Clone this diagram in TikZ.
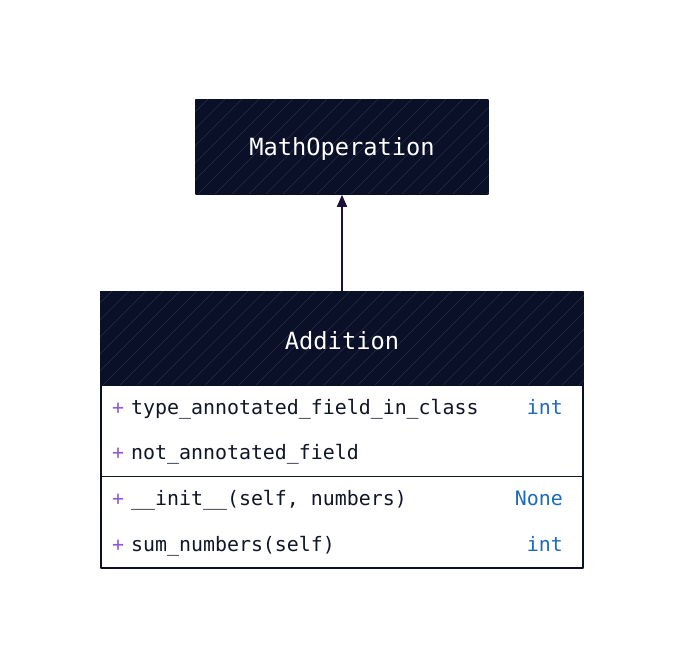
\documentclass[tikz,border=0pt]{standalone}
\usepackage{fontspec}
\setmonofont{DejaVu Sans Mono}
\usetikzlibrary{arrows.meta}
\definecolor{headfill}{HTML}{0B1029}
\definecolor{edgeline}{HTML}{1E0F3C}
\definecolor{visib}{HTML}{8C5BD6}
\definecolor{typeblue}{HTML}{1E6BBE}
\definecolor{membtext}{HTML}{111528}
\tikzset{
  classhead/.style={draw=headfill,fill=headfill,line width=1.6pt,text=white,inner sep=0pt,
    font=\ttfamily\fontsize{23.7}{28}\selectfont},
  hatchline/.style={line width=0.35pt,draw=white,opacity=0.16},
  member/.style={anchor=west,inner sep=0pt,text height=15pt,text depth=5pt,text=membtext,
    font=\ttfamily\fontsize{19.9}{24}\selectfont},
  plussign/.style={member,text=visib},
  membtype/.style={member,anchor=east,text=typeblue},
  inherit/.style={draw=edgeline,line width=1.5pt,-{Triangle[length=12pt,width=10pt]}}
}
\begin{document}
\begin{tikzpicture}[x=1pt,y=-1pt,line cap=round,line join=round]
  \useasboundingbox[fill=white] (0,0) rectangle (684,670);
  % super class
  \node[classhead,minimum width=292pt,minimum height=94pt] (mathop) at (342,147) {};
  \begin{scope}
    \clip (mathop.south west) rectangle (mathop.north east);
    \foreach \k in {0,17,...,420} \draw[hatchline] ({196+\k-100},194) -- ++(100,-100);
  \end{scope}
  \node[classhead,draw=none,fill=none] at (342,149) {MathOperation};
  % sub class
  \draw[draw=headfill,fill=white,line width=2pt] (101,292) rectangle (583,568);
  \node[classhead,minimum width=482pt,minimum height=93pt] (addhead) at (342,338.5) {};
  \begin{scope}
    \clip (addhead.south west) rectangle (addhead.north east);
    \foreach \k in {0,17,...,600} \draw[hatchline] ({101+\k-100},385) -- ++(100,-100);
  \end{scope}
  \node[classhead,draw=none,fill=none] at (342,340.5) {Addition};
  \draw[draw=membtext,line width=1pt] (102,476) -- (582,476);
  % members
  \node[plussign] (p1) at (112,409) {+};
  \node[member] (f1) at (131,409) {type\_annotated\_field\_in\_class};
  \node[membtype] (t1) at (563,409) {int};
  \node[plussign] (p2) at (112,454) {+};
  \node[member] (f2) at (131,454) {not\_annotated\_field};
  \node[plussign] (p3) at (112,500) {+};
  \node[member] (m1) at (131,500) {\_\_init\_\_(self, numbers)};
  \node[membtype] (t3) at (563,500) {None};
  \node[plussign] (p4) at (112,546) {+};
  \node[member] (m2) at (131,546) {sum\_numbers(self)};
  \node[membtype] (t4) at (563,546) {int};
  % inheritance
  \draw[inherit] (addhead.north) -- (mathop.south);
\end{tikzpicture}
\end{document}
